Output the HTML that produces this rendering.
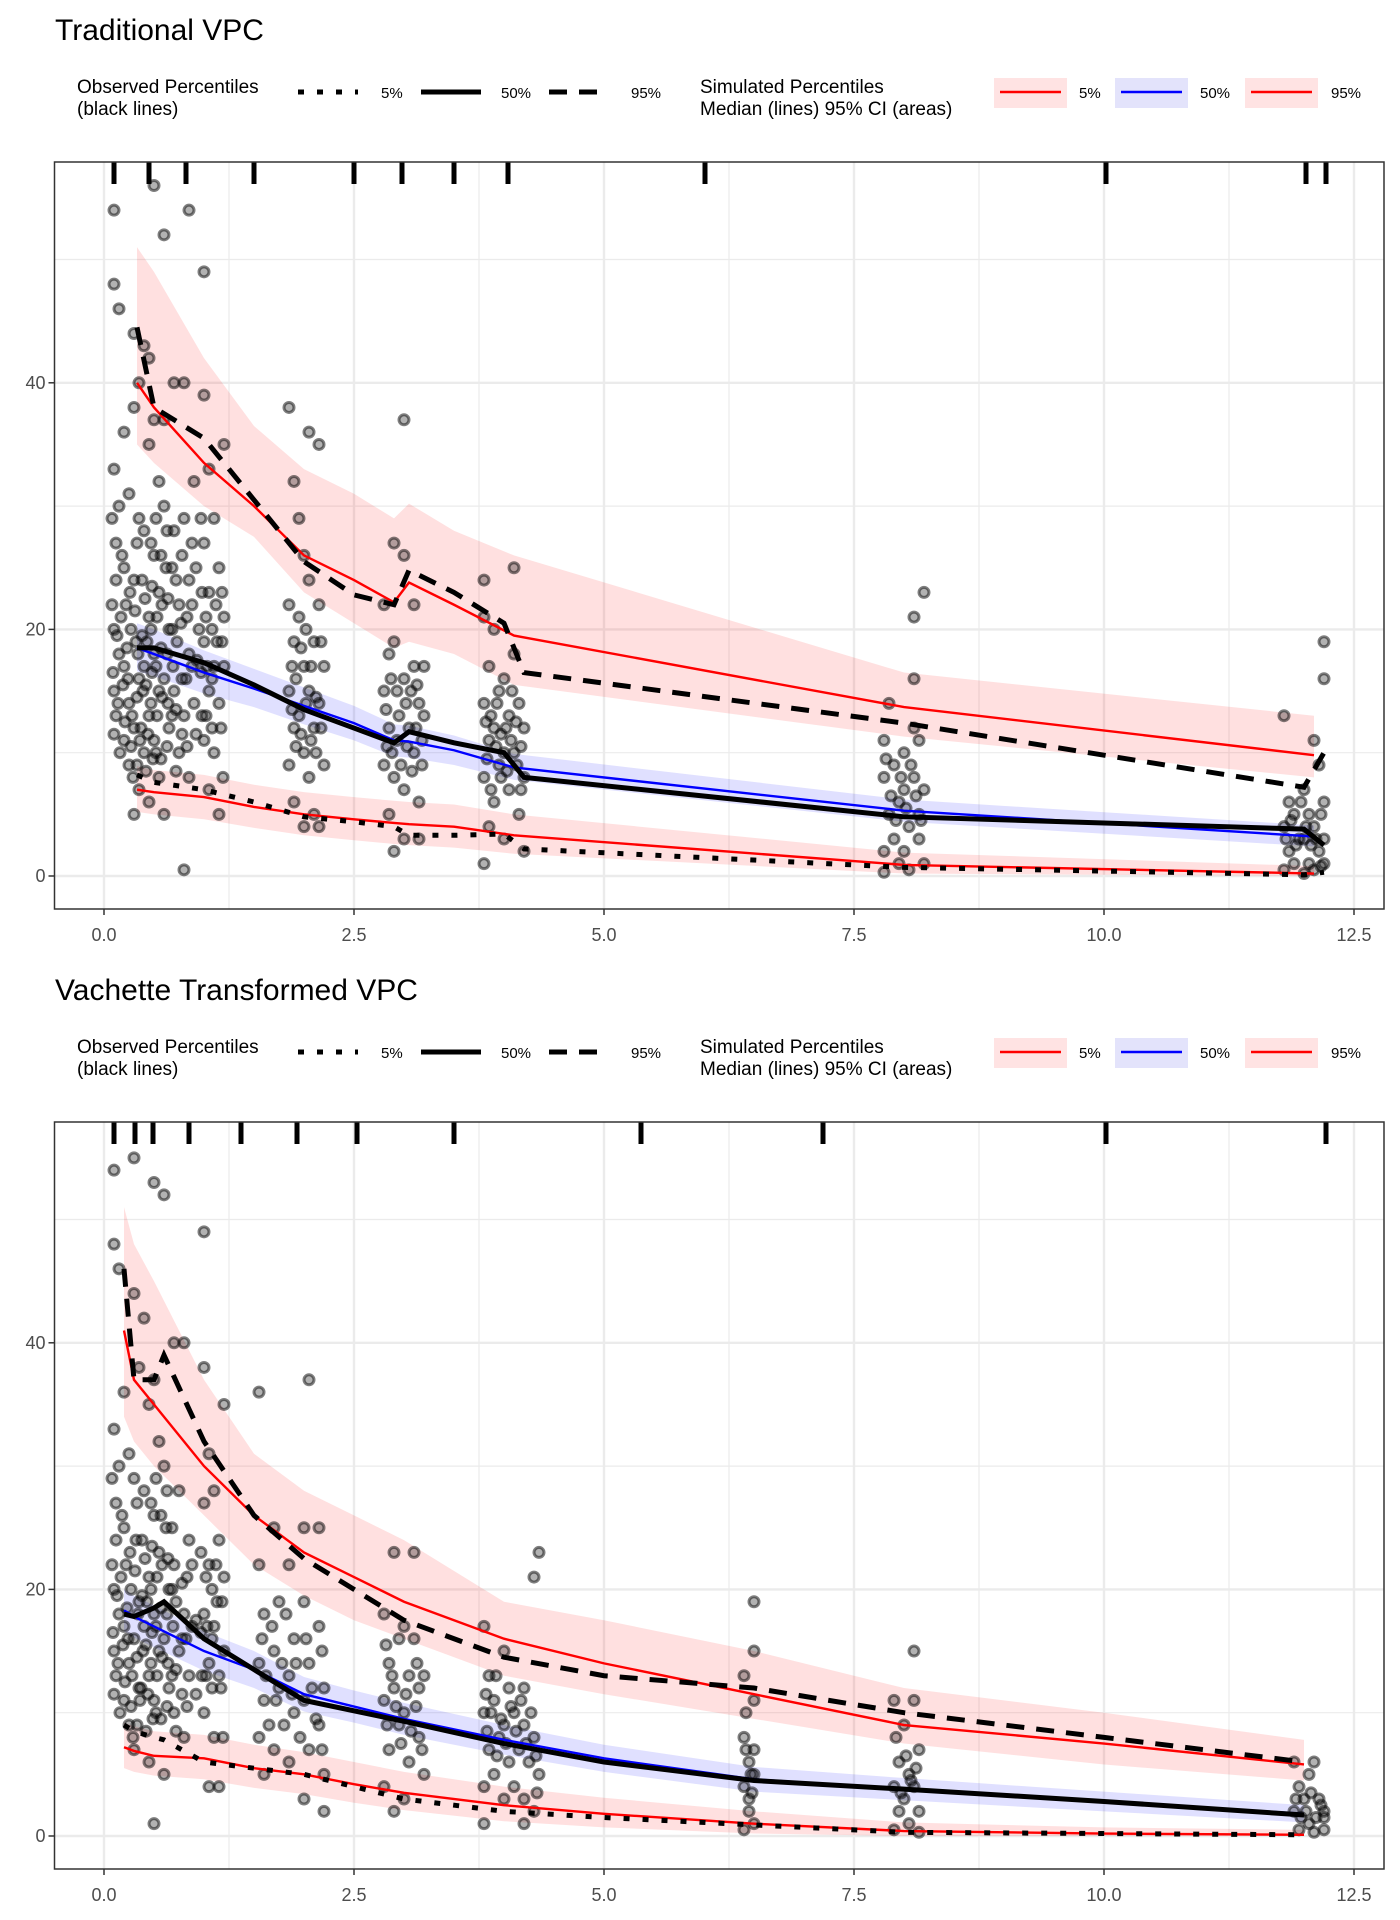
<!DOCTYPE html>
<html><head><meta charset="utf-8">
<style>
body{margin:0;background:#fff;}
svg{display:block;font-family:"Liberation Sans",sans-serif;}
</style></head>
<body>
<svg id="chart" width="1400" height="1920" viewBox="0 0 1400 1920" xmlns="http://www.w3.org/2000/svg"></svg>
<script>
// ---------- data: panel 1 (Traditional VPC) ----------
const p1Rug = [0.1,0.45,0.82,1.5,2.5,2.98,3.5,4.04,6.01,10.02,12.02,12.22];
const p1Points = [0.1,54,0.1,48,0.15,46,0.1,33,0.15,30,0.12,27,0.1,20,0.15,18,0.1,15,0.12,13,0.2,36,0.25,31,0.2,25,0.22,22,0.2,17,0.25,14,0.2,11,0.25,9,0.3,44,0.35,40,0.3,38,0.35,29,0.3,24,0.32,19,0.35,16,0.3,12,0.35,7,0.3,5,0.4,43,0.45,42,0.45,35,0.4,28,0.45,21,0.4,17,0.45,13,0.4,10,0.45,6,0.5,56,0.5,37,0.55,32,0.5,26,0.55,23,0.5,18,0.55,15,0.5,11,0.55,8,0.6,52,0.6,37,0.6,30,0.62,25,0.65,20,0.6,16,0.65,12,0.6,5,0.7,40,0.7,28,0.75,22,0.7,15,0.75,10,0.8,40,0.8,29,0.85,54,0.85,24,0.85,18,0.8,13,0.85,8,0.8,0.5,0.9,32,0.95,20,0.9,14,1.0,49,1.0,39,1.05,33,1.0,27,1.05,23,1.0,19,1.05,15,1.0,11,1.05,7,1.1,29,1.15,25,1.1,17,1.15,14,1.1,10,1.15,5,1.2,35,1.2,21,1.2,17,
1.85,38,1.9,32,1.85,22,1.9,19,1.85,15,1.9,12,1.85,9,1.9,6,1.95,29,2.0,26,1.95,21,2.0,17,1.95,13,2.0,10,2.0,4,2.05,36,2.05,24,2.1,19,2.05,15,2.1,12,2.05,8,2.1,5,2.15,35,2.15,22,2.2,17,2.15,14,2.2,9,2.15,4,
2.8,22,2.85,18,2.8,15,2.85,12,2.8,9,2.85,5,2.9,27,2.9,19,2.95,13,2.9,8,2.9,2,3.0,37,3.0,26,3.0,16,3.05,12,3.0,7,3.0,3,3.1,22,3.1,17,3.15,14,3.1,10,3.15,6,3.15,3,3.2,17,3.2,13,
3.8,24,3.8,21,3.85,17,3.8,14,3.85,11,3.8,8,3.85,4,3.8,1,3.9,20,3.95,15,3.9,12,3.95,9,3.9,6,4.0,16,4.05,13,4.0,10,4.05,7,4.0,3,4.1,25,4.1,18,4.15,14,4.1,10,4.15,5,4.2,12,4.2,8,4.2,2,
7.8,11,7.85,14,7.8,8,7.85,5,7.8,2,7.8,0.3,7.9,9,7.95,6,7.9,3,7.95,1,8.0,10,8.0,7,8.05,4,8.0,2,8.05,0.5,8.1,21,8.1,16,8.1,12,8.1,8,8.15,5,8.15,3,8.2,23,8.15,11,8.2,7,8.2,1,
11.8,13,11.85,6,11.8,4,11.85,2,11.8,0.5,11.9,5,11.95,3,11.9,1,12.0,7,12.05,5,12.0,3,12.05,1,12.0,0.2,12.1,11,12.1,4,12.15,2,12.1,0.5,12.2,19,12.2,16,12.15,9,12.2,6,12.2,3,12.2,1];
const p1PointsExtra = [0.08,29,0.12,24,0.08,22,0.13,19.5,0.09,16.5,0.14,14,0.1,11.5,0.16,10,0.18,26,0.17,21,0.19,15.5,0.21,12.5,0.23,18.5,0.26,23,0.27,20,0.24,16,0.28,13,0.27,10.5,0.29,8,0.33,27,0.31,21.5,0.34,18,0.33,14.5,0.36,11,0.33,9,0.38,24,0.38,19.5,0.39,15,0.37,12,0.41,22.5,0.43,19,0.42,15.5,0.44,11.5,0.42,8.5,0.47,27,0.48,23.5,0.47,20,0.48,16.5,0.47,14,0.49,9.5,0.52,29,0.53,21,0.52,17,0.53,13,0.52,10,0.57,26,0.58,22,0.57,18.5,0.58,14.5,0.57,9.5,0.63,28,0.64,22.5,0.63,18,0.64,14,0.63,10.5,0.68,25,0.68,20,0.69,17,0.68,13,0.72,24,0.73,19,0.72,13.5,0.72,8.5,0.78,26,0.77,20.5,0.78,16,0.78,11.5,0.83,21,0.82,16,0.83,10.5,0.88,27,0.88,22,0.88,17,0.92,25,0.93,17.5,0.92,11.5,0.97,29,0.98,23,0.97,16.5,0.98,13,1.02,21,1.03,17,1.02,13,1.08,20,1.08,16,1.08,12,1.12,22,1.13,19,1.18,23,1.18,19,1.17,12,1.19,8,
1.88,17,1.88,13.5,1.92,10.5,1.92,16,1.97,18.5,1.97,11.5,2.02,14,2.02,20,2.07,11,2.07,17,2.12,14.5,2.12,10,2.17,12,2.17,19,
2.82,13.5,2.83,10.5,2.87,16,2.88,10,2.93,15,2.93,11,2.97,9,3.02,14,3.03,10.5,3.07,15,3.08,8.5,3.12,12,3.13,15.5,3.18,9,3.18,11,
3.82,12.5,3.83,9.5,3.87,13,3.87,7,3.92,10.5,3.93,14,3.97,11.5,3.97,8,4.02,12,4.03,8.5,4.07,11,4.08,15,4.12,12.5,4.13,9,4.17,10.5,4.17,7,
7.82,9.5,7.87,6.5,7.92,4.5,7.97,8,8.02,5.5,8.07,9,8.12,6.5,8.17,4.5,
11.82,3,11.87,4.5,11.92,2.5,11.97,6,12.02,4,12.07,2.5,12.12,3,12.17,5,12.17,0.8];
const p1SimT   = [0.33,0.5,1.0,1.5,2.0,2.5,2.9,3.05,3.5,4.1,8.0,12.1];
const p1Sim95  = [40,38,33.5,30,26,24,22.2,23.8,22,19.5,13.7,9.8];
const p1Sim95Hi= [51,49,42,36.5,33,31,29,30.2,28,26,16.5,13];
const p1Sim95Lo= [35,33.5,30,27.5,23,20.5,18.5,19,18,15.5,11.3,8];
const p1Sim50  = [18.5,18,16.5,15.2,13.8,12.4,11,10.9,10.2,8.8,5.3,3.2];
const p1Sim50Hi= [20.5,20,18.3,16.8,15.3,13.8,12.3,12.2,11.4,9.9,6.2,4.1];
const p1Sim50Lo= [16.6,16.2,14.8,13.7,12.3,11,9.7,9.6,9,7.8,4.4,2.4];
const p1Sim5   = [7,6.8,6.4,5.6,5,4.6,4.3,4.2,4,3.3,0.9,0.2];
const p1Sim5Hi = [8.9,8.6,8.2,7.4,6.8,6.4,6.1,6,5.8,5,1.9,0.8];
const p1Sim5Lo = [5.2,5,4.6,3.9,3.3,2.9,2.6,2.5,2.3,1.8,0.2,0];
const p1ObsT   = [0.33,0.5,1.0,1.5,2.0,2.5,2.9,3.05,3.5,4.0,4.2,8.0,12.0,12.2];
const p1Obs95  = [44.5,38,35.5,30.5,25.5,22.8,22,24.8,23,20.5,16.5,12.4,7.2,10];
const p1Obs50  = [18.5,18.5,17.3,15.5,13.5,12,10.8,11.7,10.8,10,8,4.8,3.8,2.5];
const p1Obs5   = [8.2,7.6,7,6,4.8,4.4,4,3.3,3.3,3.4,2.2,0.7,0.1,0.3];

// ---------- data: panel 2 (Vachette Transformed VPC) ----------
const p2Rug = [0.1,0.31,0.49,0.85,1.37,1.93,2.53,3.5,5.37,7.19,10.02,12.22];
const p2Points = [0.1,54,0.1,48,0.15,46,0.1,33,0.15,30,0.12,27,0.1,20,0.15,18,0.1,15,0.12,13,0.2,36,0.25,31,0.2,25,0.22,22,0.2,17,0.25,14,0.2,11,0.25,9,0.3,55,0.3,44,0.35,38,0.3,29,0.32,24,0.35,19,0.3,16,0.35,12,0.3,7,0.4,42,0.45,35,0.4,28,0.45,21,0.4,17,0.45,13,0.45,6,0.5,53,0.5,37,0.55,32,0.5,26,0.55,23,0.5,18,0.55,15,0.5,11,0.5,1,0.6,52,0.6,30,0.62,25,0.65,20,0.6,16,0.65,12,0.6,5,0.7,40,0.75,28,0.7,22,0.75,15,0.7,10,0.8,40,0.85,24,0.8,18,0.85,13,0.8,8,1.0,49,1.0,38,1.05,31,1.0,27,1.05,22,1.0,18,1.05,14,1.0,10,1.05,4,1.1,28,1.15,24,1.1,17,1.15,13,1.1,8,1.15,4,1.2,35,1.2,21,1.2,15,
1.55,36,1.55,22,1.6,18,1.55,14,1.6,11,1.55,8,1.6,5,1.7,25,1.75,19,1.7,15,1.75,12,1.7,7,1.85,22,1.9,16,1.85,13,1.9,10,1.85,6,2.0,25,2.05,37,2.0,19,2.05,14,2.0,11,2.05,7,2.0,3,2.15,25,2.15,17,2.2,12,2.15,9,2.2,5,2.2,2,
2.8,18,2.85,14,2.8,11,2.85,7,2.8,4,2.9,23,2.95,16,2.9,12,2.95,9,2.9,2,3.0,17,3.05,13,3.0,10,3.05,6,3.0,3,3.1,23,3.1,16,3.15,12,3.15,8,3.2,13,3.2,5,
3.8,17,3.85,13,3.8,10,3.85,7,3.8,4,3.8,1,3.9,11,3.95,8,3.9,5,4.0,15,4.05,12,4.0,9,4.05,6,4.0,3,4.1,10,4.15,7,4.1,4,4.2,12,4.2,9,4.25,6,4.2,3,4.2,1,4.3,21,4.35,23,4.3,8,4.35,5,4.3,2,
6.4,13,6.4,8,6.45,6,6.4,4,6.45,2,6.4,0.5,6.5,19,6.5,15,6.5,11,6.5,7,6.5,5,6.45,3,6.5,1,
7.9,11,7.95,6,7.9,4,7.95,2,7.9,0.5,8.0,9,8.05,5,8.0,3,8.05,1,8.1,15,8.1,11,8.15,7,8.1,4,8.15,2,8.15,0.3,
11.9,6,11.95,4,11.9,2,11.95,0.5,12.0,3,12.05,5,12.05,1,12.1,6,12.15,3,12.1,0.3,12.2,2,12.2,0.5,12.2,1.5];
const p2PointsExtra = [0.08,29,0.12,24,0.08,22,0.13,19.5,0.09,16.5,0.14,14,0.1,11.5,0.16,10,0.18,26,0.17,21,0.19,15.5,0.21,12.5,0.23,18.5,0.26,23,0.27,20,0.24,16,0.28,13,0.27,10.5,0.29,8,0.33,27,0.31,21.5,0.34,18,0.33,14.5,0.36,11,0.33,9,0.38,24,0.38,19.5,0.39,15,0.37,12,0.41,22.5,0.43,19,0.42,15.5,0.44,11.5,0.42,8.5,0.47,27,0.48,23.5,0.47,20,0.48,16.5,0.47,14,0.49,9.5,0.52,29,0.53,21,0.52,17,0.53,13,0.52,10,0.57,26,0.58,22,0.57,18.5,0.58,14.5,0.57,9.5,0.63,28,0.64,22.5,0.63,18,0.64,14,0.63,10.5,0.68,25,0.68,20,0.69,17,0.68,13,0.72,19,0.72,13.5,0.72,8.5,0.78,20.5,0.78,16,0.78,11.5,0.83,21,0.82,16,0.83,10.5,0.88,22,0.88,17,0.92,17.5,0.92,11.5,0.97,23,0.97,16.5,0.98,13,1.02,21,1.03,17,1.02,13,1.08,20,1.08,16,1.08,12,1.12,22,1.13,19,1.18,19,1.17,12,1.19,8,
1.58,16,1.62,13,1.65,9,1.68,17,1.72,11,1.78,14,1.8,9,1.82,18,1.88,11.5,1.92,14,1.96,8,2.02,16,2.08,12,2.12,9.5,2.18,15,2.18,7,
2.82,15.5,2.83,9,2.88,13,2.92,10.5,2.97,7.5,3.02,11.5,3.07,8.5,3.12,10.5,3.13,14,3.18,7,
3.82,11.5,3.83,8.5,3.87,10,3.92,13,3.93,6.5,3.97,9.5,4.02,7.5,4.07,10.5,4.12,8.5,4.17,11,4.22,7.5,4.27,10,4.32,6.5,4.33,3.5,
6.42,10,6.47,5,6.42,7,6.48,3.5,
7.92,8,7.97,3.5,8.02,6.5,8.07,4.5,8.12,5.5,
11.92,3,11.97,1.5,12.02,2,12.07,3.5,12.12,1.5,12.17,2.5];
const p2SimT   = [0.2,0.3,0.5,1.0,1.5,2.0,2.5,3.0,4.0,5.0,6.5,8.0,10.0,12.0];
const p2Sim95  = [41,37,35,30,26,23,21,19,16,14,11.5,9,7.5,5.8];
const p2Sim95Hi= [51,48,45,37,31,28,26,24,19,17.5,15,12,10,7.8];
const p2Sim95Lo= [34,32,30,26,22,19.5,17.5,16,13,11.5,9.5,7.5,5.8,4.5];
const p2Sim50  = [18.3,17.8,17,15,13.5,11.5,10.5,9.5,7.8,6.3,4.6,3.8,2.8,1.8];
const p2Sim50Hi= [20,19.5,18.7,16.6,15,12.9,11.8,10.8,9,7.4,5.6,4.7,3.6,2.5];
const p2Sim50Lo= [16.6,16.1,15.3,13.4,12,10.1,9.2,8.2,6.6,5.2,3.6,2.9,2,1.1];
const p2Sim5   = [7.2,6.9,6.5,6.3,5.5,5,4.2,3.5,2.5,1.8,1,0.4,0.2,0.1];
const p2Sim5Hi = [9.2,8.9,8.5,8.2,7.4,6.8,6,5.2,4,3.1,2,1.1,0.7,0.5];
const p2Sim5Lo = [5.5,5.2,4.9,4.6,3.9,3.4,2.7,2.1,1.2,0.7,0.2,0,0,0];
const p2ObsT   = [0.2,0.3,0.5,0.6,1.0,1.5,2.0,3.0,4.0,5.0,6.5,8.0,10.0,12.0];
const p2Obs95  = [46,37,37,39,32,26,22.5,17.5,14.5,13,12,10,8,6];
const p2Obs50  = [18,17.8,18.5,19,16,13.5,11,9.3,7.5,6,4.5,3.8,2.8,1.7];
const p2Obs5   = [9,8.5,8,7.8,6,5.5,5,3,2,1.5,0.9,0.3,0.2,0.1];

// ---------- drawing ----------
const NS = "http://www.w3.org/2000/svg";
const svg = document.getElementById('chart');
function mk(tag, attrs, parent){
  const e = document.createElementNS(NS, tag);
  for (const k in attrs) e.setAttribute(k, attrs[k]);
  (parent||svg).appendChild(e);
  return e;
}
const X0 = 104, XS = 100, LEFT = 54.5, RIGHT = 1384, PH = 747, YS = 12.33;
function xs(t){ return X0 + t*XS; }

function legend(off, n){
  const g = mk('g', {});
  
  
  const t1 = mk('text', {x:77, y:off+93, 'font-size':19, fill:'#000'}, g); t1.textContent='Observed Percentiles';
   
  const t2 = mk('text', {x:77, y:off+115, 'font-size':19, fill:'#000'}, g); t2.textContent='(black lines)';
   
  const keys = [[298,'6 13','5%',381],[421,'','50%',501],[549,'18 12','95%',631]];
  keys.forEach(k=>{
    const l = mk('line', {x1:k[0], x2:k[0]+60, y1:off+92, y2:off+92, stroke:'#000','stroke-width':5,'stroke-dasharray':k[1]}, g);
     
    const t = mk('text', {x:k[3], y:off+98, 'font-size':15}, g); t.textContent=k[2];
     
  });
  const s1 = mk('text', {x:700, y:off+93, 'font-size':19}, g); s1.textContent='Simulated Percentiles';
   
  const s2 = mk('text', {x:700, y:off+115, 'font-size':19}, g); s2.textContent='Median (lines) 95% CI (areas)';
   
  const sk = [[994,'#ffe3e3','#ff0000','5%',1079],[1115,'#e3e3fb','#0000ff','50%',1200],[1245,'#ffe3e3','#ff0000','95%',1331]];
  sk.forEach(k=>{
    const r = mk('rect', {x:k[0], y:off+78, width:73, height:30, fill:k[1]}, g);
     
    mk('line', {x1:k[0]+6, x2:k[0]+67, y1:off+92, y2:off+92, stroke:k[2], 'stroke-width':2.5}, g);
    const t = mk('text', {x:k[4], y:off+98, 'font-size':15}, g); t.textContent=k[3];
     
  });
}

function panel(n, off, title, rug, ptsList, simT, bands, obsT, obs){
  const top = 162 + off, bot = top + PH, y0 = bot - 33;
  const ys = v => y0 - v*YS;
  const tt = mk('text', {x:55, y:off+40, 'font-size':30}); tt.textContent = title;
   
  legend(off, n);
  const g = mk('g', {});
  
  
  const cid = 'clip'+n;
  const cp = mk('clipPath', {id:cid}, g); mk('rect', {x:LEFT, y:top, width:RIGHT-LEFT, height:PH}, cp);
  for (let v=10; v<=50; v+=20) mk('line', {x1:LEFT,x2:RIGHT,y1:ys(v),y2:ys(v),stroke:'#ebebeb','stroke-width':1.2}, g);
  for (let t=1.25; t<=13; t+=2.5) mk('line', {y1:top,y2:bot,x1:xs(t),x2:xs(t),stroke:'#ebebeb','stroke-width':1.2}, g);
  for (let v=0; v<=40; v+=20) mk('line', {x1:LEFT,x2:RIGHT,y1:ys(v),y2:ys(v),stroke:'#ebebeb','stroke-width':2.4}, g);
  for (let t=0; t<=12.5; t+=2.5) mk('line', {y1:top,y2:bot,x1:xs(t),x2:xs(t),stroke:'#ebebeb','stroke-width':2.4}, g);
  const c = mk('g', {'clip-path':'url(#'+cid+')'}, g);
  bands.forEach(b=>{
    let d = '';
    simT.forEach((t,i)=>{ d += (i?'L':'M') + xs(t) + ',' + ys(b.hi[i]); });
    for (let i=simT.length-1;i>=0;i--) d += 'L' + xs(simT[i]) + ',' + ys(b.lo[i]);
    const p = mk('path', {d:d+'Z', fill:b.fill, 'fill-opacity':0.12, stroke:'none'}, c);
     
  });
  ptsList.forEach(pts=>{
    for (let i=0;i<pts.length;i+=2){
      const ci = mk('circle', {cx:xs(pts[i]), cy:ys(pts[i+1]), r:5, fill:'rgba(0,0,0,0.3)', stroke:'rgba(0,0,0,0.5)', 'stroke-width':3}, c);
       
    }
  });
  bands.forEach(b=>{
    const p = mk('polyline', {points: simT.map((t,i)=>xs(t)+','+ys(b.mid[i])).join(' '), fill:'none', stroke:b.line, 'stroke-width':2.4}, c);
     
  });
  obs.forEach(o=>{
    const p = mk('polyline', {points: obsT.map((t,i)=>xs(t)+','+ys(o.v[i])).join(' '), fill:'none', stroke:'#000', 'stroke-width':5, 'stroke-dasharray':o.dash}, c);
     
  });
  rug.forEach(t=>{
    const r = mk('line', {x1:xs(t),x2:xs(t),y1:top,y2:top+22,stroke:'#000','stroke-width':5}, g);
     
  });
  const fr = mk('rect', {x:LEFT,y:top,width:RIGHT-LEFT,height:PH,fill:'none',stroke:'#333','stroke-width':1.5}, g);
   
  [0,20,40].forEach(v=>{
    mk('line',{x1:LEFT-6,x2:LEFT,y1:ys(v),y2:ys(v),stroke:'#333','stroke-width':1.5}, g);
    const t = mk('text',{x:LEFT-9,y:ys(v)+6,'font-size':18,fill:'#4d4d4d','text-anchor':'end'}, g); t.textContent=String(v);
     
  });
  ['0.0','2.5','5.0','7.5','10.0','12.5'].forEach((s,i)=>{
    const t0 = i*2.5;
    mk('line',{x1:xs(t0),x2:xs(t0),y1:bot,y2:bot+6,stroke:'#333','stroke-width':1.5}, g);
    const t = mk('text',{x:xs(t0),y:bot+32,'font-size':18,fill:'#4d4d4d','text-anchor':'middle'}, g); t.textContent=s;
     
  });
}

panel(1, 0, 'Traditional VPC', p1Rug, [p1Points, p1PointsExtra], p1SimT,
  [{name:'95',hi:p1Sim95Hi,lo:p1Sim95Lo,mid:p1Sim95,fill:'#ff0000',line:'#ff0000'},
   {name:'50',hi:p1Sim50Hi,lo:p1Sim50Lo,mid:p1Sim50,fill:'#0000ff',line:'#0000ff'},
   {name:'5',hi:p1Sim5Hi,lo:p1Sim5Lo,mid:p1Sim5,fill:'#ff0000',line:'#ff0000'}],
  p1ObsT,
  [{name:'95',v:p1Obs95,dash:'18 12'},{name:'50',v:p1Obs50,dash:''},{name:'5',v:p1Obs5,dash:'6 13'}]);
panel(2, 960, 'Vachette Transformed VPC', p2Rug, [p2Points, p2PointsExtra], p2SimT,
  [{name:'95',hi:p2Sim95Hi,lo:p2Sim95Lo,mid:p2Sim95,fill:'#ff0000',line:'#ff0000'},
   {name:'50',hi:p2Sim50Hi,lo:p2Sim50Lo,mid:p2Sim50,fill:'#0000ff',line:'#0000ff'},
   {name:'5',hi:p2Sim5Hi,lo:p2Sim5Lo,mid:p2Sim5,fill:'#ff0000',line:'#ff0000'}],
  p2ObsT,
  [{name:'95',v:p2Obs95,dash:'18 12'},{name:'50',v:p2Obs50,dash:''},{name:'5',v:p2Obs5,dash:'6 13'}]);
</script>
</body></html>
